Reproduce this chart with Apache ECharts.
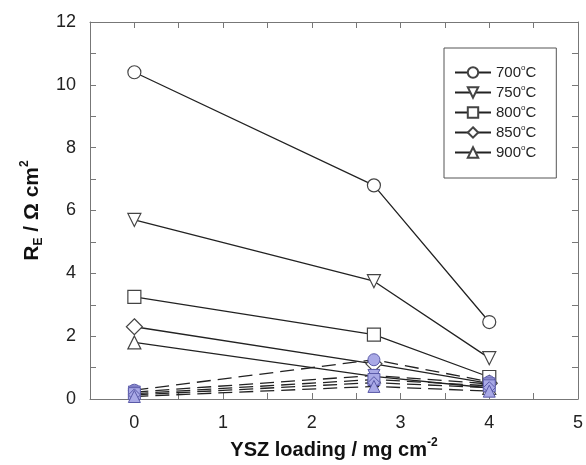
<!DOCTYPE html>
<html>
<head>
<meta charset="utf-8">
<script src="https://cdn.jsdelivr.net/npm/echarts@6/dist/echarts.min.js"></script>
<style>
  html, body { margin: 0; padding: 0; background: #fff; }
  #chart { width: 586px; height: 465px; }
</style>
</head>
<body>
<div id="chart"></div>
<script>
// YSZ loading (mg cm-2)
const loading = [0, 2.7, 4]
const temps = ['700', '750', '800', '850', '900']
const symbols = ['circle', 'triangle', 'rect', 'diamond', 'triangle']
const rotations = [0, 180, 0, 0, 0]

// R_E, solid lines (open markers)
const re700 = [10.4, 6.8, 2.45]
const re750 = [5.7, 3.75, 1.3]
const re800 = [3.25, 2.05, 0.7]
const re850 = [2.3, 1.12, 0.5]
const re900 = [1.8, 0.72, 0.35]

// R_E, dashed lines (filled markers)
const reB700 = [0.28, 1.25, 0.55]
const reB750 = [0.22, 0.75, 0.48]
const reB800 = [0.17, 0.62, 0.42]
const reB850 = [0.13, 0.52, 0.36]
const reB900 = [0.08, 0.4, 0.25]

const solid = [re700, re750, re800, re850, re900]
const dashed = [reB700, reB750, reB800, reB850, reB900]

const pair = arr => arr.map((v, i) => [loading[i], v])
const font = 'Liberation Sans, Arial, sans-serif'
const axisGray = '#777'

const series = []
temps.forEach((t, i) => {
    series.push({
        name: t,
        type: 'line',
        data: pair(solid[i]),
        symbol: symbols[i],
        symbolRotate: rotations[i],
        symbolSize: symbols[i] === 'diamond' ? 16 : 13,
        z: 3,
        lineStyle: { color: '#222', width: 1.3 },
        itemStyle: { color: '#fff', borderColor: '#444', borderWidth: 1.2 }
    })
})
temps.forEach((t, i) => {
    series.push({
        name: t + 'b',
        type: 'line',
        data: pair(dashed[i]),
        symbol: symbols[i],
        symbolRotate: rotations[i],
        symbolSize: 12,
        z: 4,
        lineStyle: { color: '#222', width: 1.3, type: [14, 7] },
        itemStyle: { color: '#a9a9e6', borderColor: '#5a5aa8', borderWidth: 1 }
    })
})

const frameAxis = { show: true, onZero: false, lineStyle: { color: axisGray } }
const tick = { inside: true, length: 6, lineStyle: { color: axisGray } }
const minor = { show: true, splitNumber: 2, length: 6, lineStyle: { color: axisGray } }

const chart = echarts.init(document.getElementById('chart'))
chart.setOption({
    animation: false,
    textStyle: { fontFamily: font },
    grid: { left: 90, top: 22, right: 3, bottom: 64 },
    legend: {
        data: temps,
        orient: 'vertical',
        left: 444,
        top: 48,
        itemGap: 4,
        itemWidth: 36,
        itemHeight: 13,
        padding: [16, 20, 18, 10],
        borderColor: '#555',
        borderWidth: 1,
        borderRadius: 0,
        formatter: n => '{a|' + n + '}{s|o}{a|C}',
        textStyle: {
            rich: {
                a: { fontSize: 15, color: '#222', fontFamily: font },
                s: { fontSize: 8, color: '#222', verticalAlign: 'top', padding: [0, 0, 9, 0], fontFamily: font }
            }
        }
    },
    xAxis: [{
        type: 'value',
        min: -0.5,
        max: 5,
        interval: 0.5,
        name: '{b|YSZ loading / mg cm}{sup|-2}',
        nameLocation: 'middle',
        nameGap: 38,
        nameTextStyle: {
            rich: {
                b: { fontSize: 20, fontWeight: 'bold', color: '#111', fontFamily: font },
                sup: { fontSize: 12, fontWeight: 'bold', color: '#111', verticalAlign: 'top', padding: [0, 0, 14, 0], fontFamily: font }
            }
        },
        axisLine: frameAxis,
        axisTick: tick,
        axisLabel: {
            fontSize: 18, color: '#222', margin: 15,
            formatter: v => Number.isInteger(v) ? String(v) : ''
        },
        splitLine: { show: false }
    }, {
        type: 'value',
        position: 'top',
        min: -0.5,
        max: 5,
        interval: 0.5,
        axisLine: frameAxis,
        axisTick: tick,
        axisLabel: { show: false },
        splitLine: { show: false }
    }],
    yAxis: [{
        type: 'value',
        min: 0,
        max: 12,
        interval: 2,
        name: '{b|R}{sub|E}{b| / Ω cm}{sup|2}',
        nameLocation: 'middle',
        nameGap: 42,
        nameRotate: 90,
        nameTextStyle: {
            rich: {
                b: { fontSize: 21, fontWeight: 'bold', color: '#111', fontFamily: font },
                sub: { fontSize: 12, fontWeight: 'bold', color: '#111', verticalAlign: 'bottom', padding: [12, 0, 0, 0], fontFamily: font },
                sup: { fontSize: 12, fontWeight: 'bold', color: '#111', verticalAlign: 'top', padding: [0, 0, 14, 0], fontFamily: font }
            }
        },
        axisLine: frameAxis,
        axisTick: tick,
        minorTick: minor,
        axisLabel: { fontSize: 18, color: '#222', margin: 14 },
        splitLine: { show: false },
        minorSplitLine: { show: false }
    }, {
        type: 'value',
        position: 'right',
        min: 0,
        max: 12,
        interval: 2,
        axisLine: frameAxis,
        axisTick: tick,
        minorTick: minor,
        axisLabel: { show: false },
        splitLine: { show: false },
        minorSplitLine: { show: false }
    }],
    series: series
})
</script>
</body>
</html>
